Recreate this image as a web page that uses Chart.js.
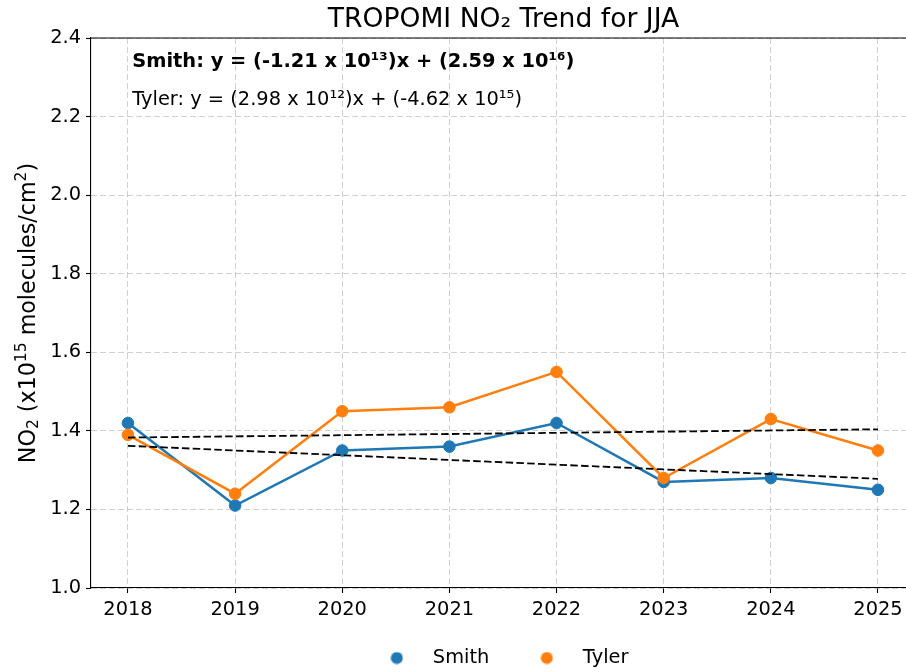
<!DOCTYPE html>
<html>
<head>
<meta charset="utf-8">
<script src="https://cdn.jsdelivr.net/npm/chart.js@4.4.1/dist/chart.umd.min.js"></script>
<style>
  html, body { margin: 0; padding: 0; background: #fff; overflow: hidden; }
  #wrap { position: relative; width: 930px; height: 680px; }
</style>
</head>
<body>
<div id="wrap"><canvas id="chart" width="930" height="680"></canvas></div>
<script>
// ── data ──
const years      = [2018, 2019, 2020, 2021, 2022, 2023, 2024, 2025];
const smith      = [1.42, 1.21, 1.35, 1.36, 1.42, 1.27, 1.28, 1.25];
const tyler      = [1.39, 1.24, 1.45, 1.46, 1.55, 1.28, 1.43, 1.35];
const smithTrend = [1.362, 1.278];   // dashed fit, at first and last year
const tylerTrend = [1.383, 1.404];
const yTicks     = [1.0, 1.2, 1.4, 1.6, 1.8, 2.0, 2.2, 2.4];

const titleText = 'TROPOMI NO₂ Trend for JJA';
// y label pieces: [text, 'sub' | 'sup' | '']
const yLabelParts = [['NO', ''], ['2', 'sub'], [' (x10', ''], ['15', 'sup'], [' molecules/cm', ''], ['2', 'sup'], [')', '']];
const smithEqn  = 'Smith: y = (-1.21 x 10¹³)x + (2.59 x 10¹⁶)';
const tylerEqn  = 'Tyler: y = (2.98 x 10¹²)x + (-4.62 x 10¹⁵)';

const BLUE = '#1f77b4', ORANGE = '#ff7f0e';
const FS = 19.4;      // ticks, legend, equations
const LFS = 22.2;     // y axis label

Chart.defaults.font.family = "'DejaVu Sans', sans-serif";
Chart.defaults.font.size = FS;
Chart.defaults.color = '#000';

// little round legend markers
function makeDot(color) {
  const c = document.createElement('canvas');
  c.width = 13; c.height = 13;
  const g = c.getContext('2d');
  g.fillStyle = color;
  g.beginPath(); g.arc(6.5, 6.5, 6, 0, Math.PI * 2); g.fill();
  return c;
}
const dots = [makeDot(BLUE), makeDot(ORANGE)];

const toPts = arr => arr.map((v, i) => ({ x: years[i], y: v }));
const ends  = arr => [{ x: years[0], y: arr[0] }, { x: years[years.length - 1], y: arr[1] }];

// top spine, fit equations, y label with sub/superscripts
const extras = {
  id: 'extras',
  afterLayout(chart) {
    // nudge legend a touch left, like matplotlib's placement
    chart.legend.left -= 4;
    chart.legend.right -= 4;
  },
  afterDraw(chart) {
    const { ctx, chartArea: a } = chart;
    ctx.save();
    ctx.strokeStyle = '#000';
    ctx.lineWidth = 1.1;
    ctx.beginPath(); ctx.moveTo(a.left, a.top); ctx.lineTo(a.right, a.top); ctx.stroke();

    ctx.fillStyle = '#000';
    ctx.textBaseline = 'alphabetic';
    ctx.textAlign = 'left';
    const x = a.left + 0.05 * (a.right - a.left);
    ctx.font = `bold ${FS}px 'DejaVu Sans'`;
    ctx.fillText(smithEqn, x, a.top + 28.5);
    ctx.font = `${FS}px 'DejaVu Sans'`;
    ctx.fillText(tylerEqn, x, a.top + 66.5);

    // y label
    const fontFor = k => `${k ? LFS * 0.7 : LFS}px 'DejaVu Sans'`;
    let total = 0;
    yLabelParts.forEach(([t, k]) => { ctx.font = fontFor(k); total += ctx.measureText(t).width; });
    ctx.translate(34.5, (a.top + a.bottom) / 2);
    ctx.rotate(-Math.PI / 2);
    let cx = -total / 2;
    yLabelParts.forEach(([t, k]) => {
      ctx.font = fontFor(k);
      const dy = k === 'sup' ? -0.38 * LFS : k === 'sub' ? 0.16 * LFS : 0;
      ctx.fillText(t, cx, dy);
      cx += ctx.measureText(t).width;
    });
    ctx.restore();
  }
};

new Chart(document.getElementById('chart'), {
  type: 'line',
  data: {
    datasets: [
      { label: 'Smith', data: toPts(smith), borderColor: BLUE, backgroundColor: BLUE,
        borderWidth: 2.5, pointRadius: 5.8, pointBorderWidth: 1, pointBorderColor: BLUE, order: 2 },
      { label: 'Tyler', data: toPts(tyler), borderColor: ORANGE, backgroundColor: ORANGE,
        borderWidth: 2.5, pointRadius: 5.8, pointBorderWidth: 1, pointBorderColor: ORANGE, order: 1 },
      { label: 'Smith fit', data: ends(smithTrend), borderColor: '#000', borderWidth: 1.8,
        borderDash: [7.5, 3.3], pointRadius: 0, order: 0 },
      { label: 'Tyler fit', data: ends(tylerTrend), borderColor: '#000', borderWidth: 1.8,
        borderDash: [7.5, 3.3], pointRadius: 0, order: 0 }
    ]
  },
  options: {
    responsive: false,
    animation: false,
    events: [],
    layout: { padding: { left: 0, right: 14, top: 0, bottom: 2.3 } },
    scales: {
      x: {
        type: 'linear', min: 2017.655, max: 2025.355,
        afterBuildTicks: s => { s.ticks = years.map(v => ({ value: v })); },
        afterFit: s => { s.height = 29.1; },
        ticks: { padding: 5, maxRotation: 0, autoSkip: false, callback: v => String(v) },
        grid: { color: 'rgba(170,170,170,0.55)', lineWidth: 1, tickLength: 5, tickColor: '#000', tickWidth: 1.1 },
        border: { color: '#000', width: 1.1, dash: [6, 3] }
      },
      y: {
        min: 1.0, max: 2.4,
        afterBuildTicks: s => { s.ticks = yTicks.map(v => ({ value: v })); },
        afterFit: s => { s.width = 91; },
        ticks: { padding: 5, callback: v => v.toFixed(1) },
        grid: { color: 'rgba(170,170,170,0.55)', lineWidth: 1, tickLength: 5, tickColor: '#000', tickWidth: 1.1 },
        border: { color: '#000', width: 1.1, dash: [6, 3] }
      }
    },
    plugins: {
      title: {
        display: true, text: titleText, fullSize: false, color: '#000',
        font: { size: 26.6, weight: 'normal' }, padding: { top: 4.3, bottom: 1.8 }
      },
      legend: {
        position: 'bottom', fullSize: false,
        labels: {
          usePointStyle: true, pointStyleWidth: 52.6, padding: 31.2, color: '#000',
          font: { size: FS },
          sort: (a, b) => a.datasetIndex - b.datasetIndex,
          generateLabels: chart => Chart.defaults.plugins.legend.labels.generateLabels(chart)
            .filter(l => l.datasetIndex < 2)
            .map(l => ({ ...l, pointStyle: dots[l.datasetIndex] }))
        }
      },
      tooltip: { enabled: false }
    }
  },
  plugins: [extras]
});
</script>
</body>
</html>
